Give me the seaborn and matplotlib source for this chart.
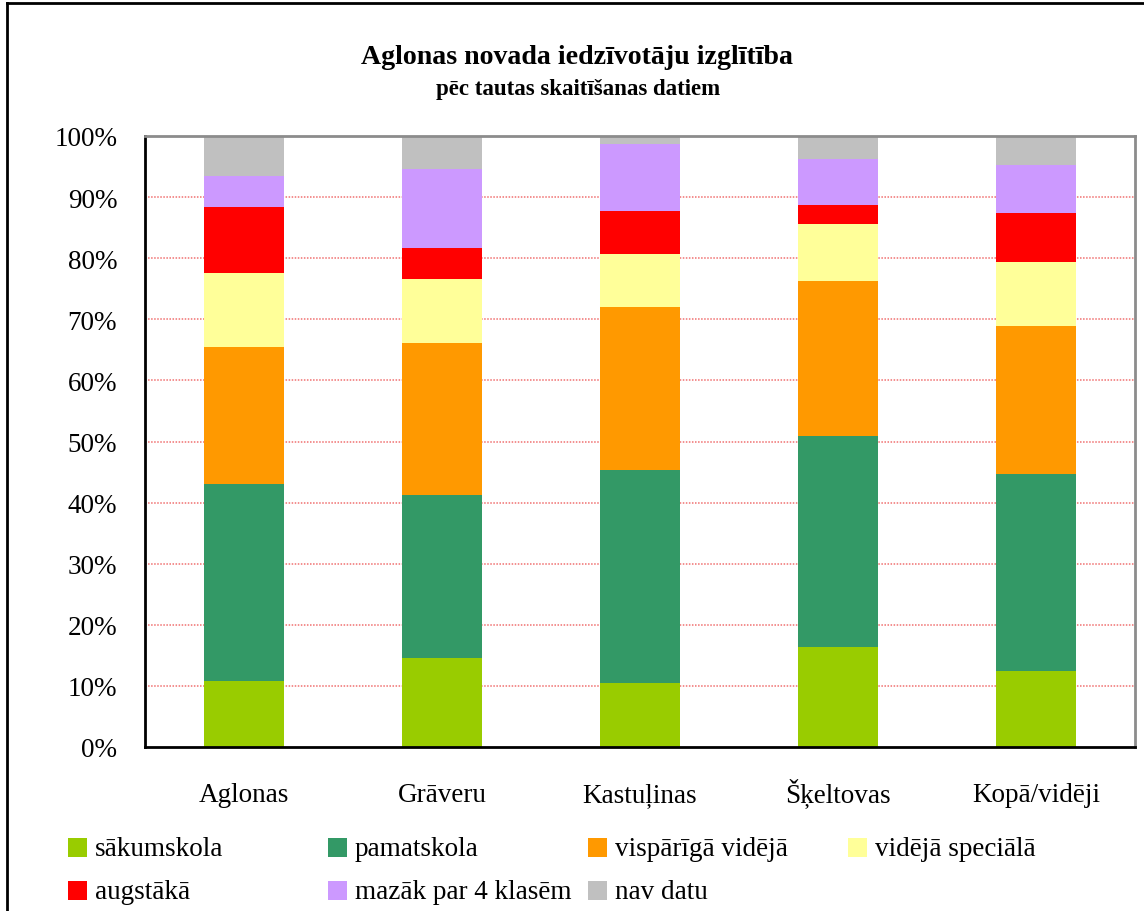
import pandas as pd
import seaborn as sns
import matplotlib.pyplot as plt
from matplotlib.patches import Rectangle
from matplotlib.lines import Line2D

# Values (percent of residents)
pagasti = ['Aglonas', 'Grāveru', 'Kastuļinas', 'Šķeltovas', 'Kopā/vidēji']
series_names = ['sākumskola', 'pamatskola', 'vispārīgā vidējā', 'vidējā speciālā',
                'augstākā', 'mazāk par 4 klasēm', 'nav datu']
sakumskola = [10.8, 14.6, 10.5, 16.4, 12.4]
pamatskola = [32.2, 26.6, 34.8, 34.5, 32.3]
visparigi_videja = [22.5, 24.9, 26.7, 25.4, 24.2]
videja_speciala = [12.1, 10.5, 8.7, 9.3, 10.5]
augstaka = [10.8, 5.1, 7.0, 3.1, 8.0]
mazak_4 = [5.0, 12.9, 11.0, 7.5, 7.9]
nav_datu = [6.6, 5.4, 1.3, 3.8, 4.7]
colors = ['#99CC00', '#339966', '#FF9900', '#FFFF99', '#FF0000', '#CC99FF', '#C0C0C0']

series = [sakumskola, pamatskola, visparigi_videja, videja_speciala,
          augstaka, mazak_4, nav_datu]

df = pd.DataFrame(dict(zip(series_names, series)), index=pagasti)
shares = df.div(df.sum(axis=1), axis=0) * 100
cum = shares.cumsum(axis=1)

plt.rcParams['font.family'] = ['Liberation Serif', 'DejaVu Serif']

fig = plt.figure(figsize=(11.44, 9.12), dpi=100)
ax = fig.add_axes([145 / 1144, 1 - 748 / 912, 990 / 1144, 611 / 912])

# stacked bars: draw cumulative totals from the top layer down
for name, color in reversed(list(zip(series_names, colors))):
    sns.barplot(x=pagasti, y=cum[name].values, color=color, width=0.405,
                saturation=1, edgecolor='none', linewidth=0, ax=ax, zorder=2)

ax.set_ylim(0, 100)
ax.set_xlim(-0.5, len(pagasti) - 0.5)
ax.set_yticks(range(0, 101, 10))
ax.set_yticklabels([f'{t}%' for t in range(0, 101, 10)], fontsize=19.5)
ax.tick_params(axis='x', labelsize=19.5, length=0, pad=39)
ax.tick_params(axis='y', length=0, pad=20)
for lab in ax.get_xticklabels():
    lab.set_verticalalignment('baseline')
ax.set_xlabel('')
ax.set_ylabel('')
for t in range(10, 101, 10):
    ax.axhline(t, color='#F07070', linewidth=1.1, linestyle=(0, (1, 1)), zorder=1)

ax.spines['left'].set_color('black')
ax.spines['bottom'].set_color('black')
ax.spines['left'].set_linewidth(2)
ax.spines['bottom'].set_linewidth(2)
ax.spines['top'].set_color('#8C8C8C')
ax.spines['right'].set_color('#8C8C8C')
ax.spines['top'].set_linewidth(2)
ax.spines['right'].set_linewidth(2)

fig.text(577 / 1144, 1 - 57 / 912, 'Aglonas novada iedzīvotāju izglītība',
         ha='center', va='center', fontsize=20.1, fontweight='bold')
fig.text(578 / 1144, 1 - 90 / 912, 'pēc tautas skaitīšanas datiem',
         ha='center', va='center', fontsize=16.5, fontweight='bold')

# legend laid out in fixed columns like the original
col_x = [68, 328, 588, 848]
row_y = [848.5, 891.5]
for i, (name, color) in enumerate(zip(series_names, colors)):
    x = col_x[i % 4]
    y = row_y[i // 4]
    fig.patches.append(Rectangle((x / 1144, 1 - (y + 9.5) / 912), 19 / 1144, 19 / 912,
                                 transform=fig.transFigure, facecolor=color,
                                 edgecolor='none'))
    fig.text((x + 27) / 1144, 1 - (y + 1) / 912, name, ha='left', va='center',
             fontsize=19.5)

# outer chart frame (cut off at right and bottom)
fig.add_artist(Line2D([7 / 1144, 7 / 1144], [0, 1 - 4 / 912], color='black',
                      linewidth=2, transform=fig.transFigure))
fig.add_artist(Line2D([7 / 1144, 1], [1 - 4 / 912, 1 - 4 / 912], color='black',
                      linewidth=2, transform=fig.transFigure))

fig.savefig('out.png', dpi=100, facecolor='white')
